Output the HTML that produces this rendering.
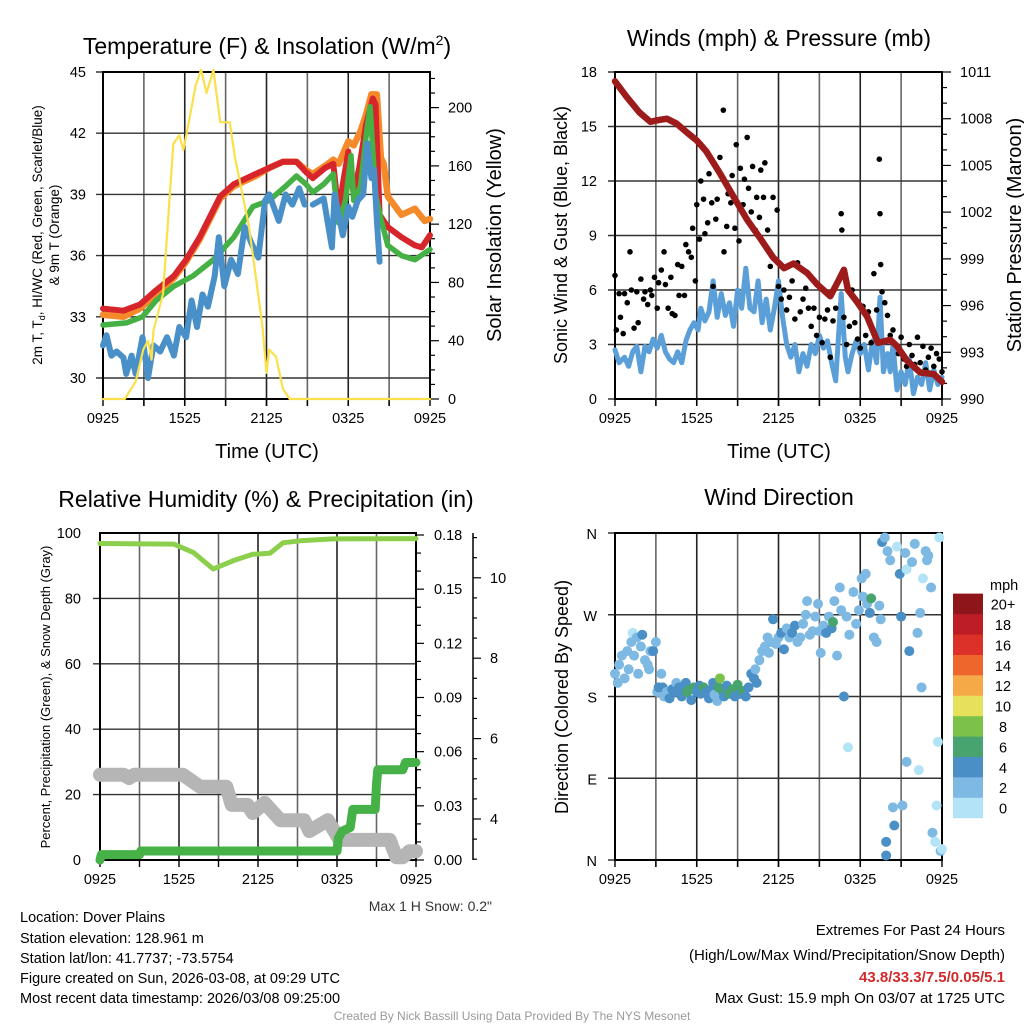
<!DOCTYPE html>
<html><head><meta charset="utf-8"><style>
html,body{margin:0;padding:0;background:#fff}
svg{display:block;font-family:"Liberation Sans",sans-serif}
</style></head><body>
<svg id="root" width="1024" height="1024" viewBox="0 0 1024 1024" xmlns="http://www.w3.org/2000/svg">
<rect width="1024" height="1024" fill="#fff"/>
<text x="267" y="54" font-size="23" text-anchor="middle">Temperature (F) &amp; Insolation (W/m<tspan font-size="14" dy="-9">2</tspan><tspan dy="9">)</tspan></text>
<text x="779" y="46" font-size="23" text-anchor="middle">Winds (mph) &amp; Pressure (mb)</text>
<text x="266" y="507" font-size="23" text-anchor="middle">Relative Humidity (%) &amp; Precipitation (in)</text>
<text x="779" y="505" font-size="23" text-anchor="middle">Wind Direction</text>
<text transform="translate(42,235) rotate(-90)" font-size="13.5" text-anchor="middle">2m T, T<tspan font-size="9" dy="3">d</tspan><tspan dy="-3">, HI/WC (Red, Green, Scarlet/Blue)</tspan></text>
<text transform="translate(59,235) rotate(-90)" font-size="13.5" text-anchor="middle">&amp; 9m T (Orange)</text>
<text transform="translate(501,235) rotate(-90)" font-size="20" text-anchor="middle">Solar Insolation (Yellow)</text>
<text x="267" y="458" font-size="20" text-anchor="middle">Time (UTC)</text>
<text transform="translate(567,235) rotate(-90)" font-size="18" text-anchor="middle">Sonic Wind &amp; Gust (Blue, Black)</text>
<text transform="translate(1021,235) rotate(-90)" font-size="20" text-anchor="middle">Station Pressure (Maroon)</text>
<text x="779" y="458" font-size="20" text-anchor="middle">Time (UTC)</text>
<text transform="translate(50,697) rotate(-90)" font-size="13" text-anchor="middle">Percent, Precipitation (Green), &amp; Snow Depth (Gray)</text>
<text transform="translate(568,697) rotate(-90)" font-size="18" text-anchor="middle">Direction (Colored By Speed)</text>
<text x="492" y="911" font-size="14" fill="#333" text-anchor="end">Max 1 H Snow: 0.2"</text>
<g font-size="14.5">
<text x="20" y="922">Location: Dover Plains</text>
<text x="20" y="943">Station elevation: 128.961 m</text>
<text x="20" y="963">Station lat/lon: 41.7737; -73.5754</text>
<text x="20" y="983">Figure created on Sun, 2026-03-08, at 09:29 UTC</text>
<text x="20" y="1003">Most recent data timestamp: 2026/03/08 09:25:00</text>
</g>
<g font-size="15" text-anchor="end">
<text x="1005" y="935">Extremes For Past 24 Hours</text>
<text x="1005" y="960">(High/Low/Max Wind/Precipitation/Snow Depth)</text>
<text x="1005" y="982" fill="#d02a2a" font-weight="bold">43.8/33.3/7.5/0.05/5.1</text>
<text x="1005" y="1003">Max Gust: 15.9 mph On 03/07 at 1725 UTC</text>
</g>
<text x="512" y="1020" font-size="12" fill="#999" text-anchor="middle">Created By Nick Bassill Using Data Provided By The NYS Mesonet</text>
</svg>
<script>
// ---------- data ----------
const xTickLabels = ["0925","1525","2125","0325","0925"];
const tempTicks = [30,33,36,39,42,45];
const insTicks = [0,40,80,120,160,200];
const redT = [0,1.5,2.7,3.9,5.2,6.1,7.1,8.6,9.6,11.2,12.2,13.2,14.2,14.9,15.4,16.3,16.9,17.3,17.6,18.0,18.4,18.8,19.3,19.8,20.0,20.3,20.9,21.9,22.9,23.4,24];
const redV = [33.4,33.3,33.6,34.3,35.0,35.8,36.9,38.9,39.5,40.0,40.3,40.6,40.6,40.1,39.8,40.3,40.5,38.0,39.5,41.1,39.0,40.3,42.4,43.7,43.4,38.0,37.4,36.9,36.5,36.4,37.0];
const orangeT = [0,1.5,2.7,3.9,5.2,6.1,7.1,8.6,9.6,11.2,12.2,13.2,14.2,14.9,15.4,16.3,16.9,17.3,18.0,18.4,18.9,19.3,19.7,20.1,20.4,20.6,20.9,21.9,22.9,23.6,24];
const orangeV = [33.1,33.0,33.4,34.1,34.9,35.7,36.8,38.8,39.4,39.9,40.3,40.6,40.6,40.2,40.0,40.4,40.7,40.5,41.6,41.4,42.1,42.9,43.9,43.9,40.8,40.5,38.9,38.0,38.3,37.7,37.8];
const greenT = [0,1.7,2.9,3.9,5.2,6.6,8.1,9.6,11.0,12.2,13.4,14.2,14.9,15.4,16.2,16.9,17.3,17.8,18.2,18.4,18.9,19.3,19.6,20.0,20.4,20.9,21.9,22.9,24];
const greenV = [32.6,32.7,33.0,33.8,34.5,35.0,35.8,36.9,38.4,38.7,39.4,39.9,39.5,39.1,39.5,40.0,37.6,38.7,40.9,38.7,39.4,41.8,43.3,39.0,37.8,36.5,36.0,35.8,36.3];
const blueT = [0,0.26,0.62,1.0,1.5,1.7,2.1,2.4,2.9,3.3,3.7,4.2,4.7,5.2,5.6,6.1,6.5,6.9,7.3,7.7,8.2,8.5,8.9,9.4,9.9,10.4,10.9,11.4,11.9,12.2,12.9,13.4,13.9,14.4,14.8];
const blueV = [31.6,32.1,31.1,31.3,31.0,30.2,31.1,30.2,32.0,30.0,31.6,31.3,32.0,31.1,32.5,32.0,33.8,32.5,34.1,33.5,35.0,36.9,34.5,35.8,35.1,37.4,36.6,35.9,38.7,39.0,37.7,39.0,38.5,39.3,38.5];
const blue2T = [15.4,16.2,16.8,17.0,17.6,18.0,18.3,18.7,19.1,19.4,19.7,19.9,20.1,20.3];
const blue2V = [38.5,38.8,36.4,39.0,37.0,38.4,37.9,38.7,39.0,41.5,39.8,40.2,37.7,35.7];
const insT = [0,1.6,2.4,2.96,3.3,3.57,3.7,4.4,4.67,5.16,5.6,5.9,6.3,6.8,7.2,7.6,8.1,8.6,9.3,9.7,10.2,10.7,11.2,11.7,12.0,12.2,12.7,13.2,13.7,24];
const insV = [0,0,12,34,40,27,47,72,108,175,181,171,190,215,226,210,226,190,190,165,142,119,85,50,18,34,29,7,0,0];

const windTicks = [0,3,6,9,12,15,18];
const presTicks = [990,993,996,999,1002,1005,1008,1011];
const presT = [0,0.86,1.8,2.6,3.1,3.8,4.5,5.3,6.0,6.7,7.7,8.7,9.7,10.6,11.6,12.4,13.1,14.1,14.8,15.8,16.4,16.8,17.1,17.8,18.5,19.3,20.2,20.7,21.4,22.4,23.4,24];
const presV = [1010.4,1009.4,1008.4,1007.8,1007.9,1008.0,1007.7,1007.1,1006.6,1005.9,1004.5,1003.0,1001.5,1000.4,999.1,998.4,998.7,998.1,997.4,996.6,997.6,998.3,997.0,996.2,995.3,993.6,993.8,993.4,992.5,991.7,991.6,991.1];
const windT = [0,0.3,0.7,1,1.3,1.6,1.9,2.2,2.5,2.8,3.1,3.4,3.7,4,4.3,4.6,4.9,5.2,5.5,5.8,6.1,6.3,6.6,6.9,7.2,7.5,7.8,8.1,8.4,8.7,9,9.3,9.6,9.9,10.2,10.5,10.8,11.1,11.4,11.7,12,12.3,12.6,12.9,13.2,13.5,13.8,14.1,14.4,14.7,15,15.3,15.6,15.9,16.2,16.6,16.9,17.1,17.4,17.7,18,18.3,18.6,18.9,19.2,19.45,19.7,20,20.2,20.4,20.7,21,21.3,21.6,21.9,22.2,22.5,22.8,23.1,23.4,23.7,24];
const windV = [2.7,2.0,2.3,1.8,2.6,2.9,1.5,2.9,2.6,3.3,2.8,3.5,2.6,2.2,2.0,2.6,2.0,3.2,3.8,4.2,3.8,5.0,4.3,4.8,6.5,4.5,5.8,4.6,5.3,4.0,6.0,5.0,7.2,5.0,4.8,6.5,4.2,5.5,3.8,5.0,6.5,4.5,3.0,2.3,3.0,1.5,2.5,1.8,3.0,2.5,3.5,2.8,3.2,2.0,1.0,5.8,2.3,1.5,2.5,3.2,2.5,3.0,1.6,3.2,2.0,5.6,1.5,2.5,1.5,3.0,0.5,1.5,0.8,2.2,0.3,1.2,0.8,2.0,0.5,1.6,0.8,1.2];
const gustT = [0,0.1,0.3,0.4,0.6,0.7,0.9,1.1,1.2,1.4,1.6,1.7,1.9,2.1,2.2,2.4,2.6,2.7,2.9,3.1,3.2,3.4,3.6,3.7,3.9,4.1,4.2,4.4,4.6,4.7,4.9,5.1,5.2,5.4,5.6,5.7,5.9,6.0,6.2,6.3,6.5,6.6,6.8,6.9,7.1,7.2,7.4,7.5,7.7,7.95,8.0,8.2,8.3,8.5,8.6,8.8,8.9,9.1,9.2,9.4,9.5,9.7,9.8,10.0,10.1,10.3,10.4,10.6,10.7,10.9,11.0,11.2,11.4,11.6,11.9,12.0,12.2,12.4,12.6,12.8,13.0,13.2,13.4,13.6,13.8,14.0,14.2,14.4,14.6,14.8,15.0,15.2,15.4,15.6,15.8,16.0,16.2,16.4,16.6,16.65,16.8,17.0,17.2,17.4,17.6,17.8,18.0,18.2,18.4,18.6,18.8,19.0,19.2,19.4,19.45,19.5,19.6,19.8,20.0,20.2,20.4,20.6,20.8,21.0,21.2,21.4,21.6,21.8,22.0,22.2,22.4,22.6,22.8,23.0,23.2,23.4,23.6,23.8,24];
const gustV = [6.8,3.8,5.8,4.5,3.6,5.8,5.3,8.1,6.0,3.9,5.9,4.2,6.6,5.5,5.9,5.2,6.0,5.7,6.7,5.0,6.4,7.1,8.1,6.3,5.0,6.7,4.7,4.6,7.4,5.7,7.3,5.7,8.5,8.1,7.8,9.4,6.5,10.7,8.8,12.0,11.0,9.1,9.7,12.4,10.8,6.2,9.9,11.0,13.3,15.9,8.1,9.5,11.3,10.8,12.3,9.4,14.0,8.7,12.7,10.7,12.1,14.4,11.6,10.3,12.8,9.3,11.1,10.0,12.6,11.1,13.0,9.3,7.3,11.1,10.4,6.2,5.5,6.0,4.9,5.6,6.5,4.4,7.5,4.8,5.5,6.1,5.0,4.0,5.0,3.5,4.5,3.1,4.4,4.9,2.3,4.3,5.0,6.5,10.2,9.3,4.5,3.0,4.0,6.0,4.2,3.3,2.8,5.1,3.5,4.8,3.1,6.9,4.9,13.2,10.2,7.4,5.9,5.3,4.6,3.5,3.8,3.0,2.5,3.4,2.2,1.8,3.0,2.4,1.9,3.4,2.0,2.9,1.6,2.3,2.8,1.8,2.5,2.2,1.5];

const rhTicks = [0,20,40,60,80,100];
const precipTicks = ["0.00","0.03","0.06","0.09","0.12","0.15","0.18"];
const snowTicks = [4,6,8,10];
const rhT = [0,5.6,7.1,8.6,10.1,11.6,12.9,13.9,15.2,17.7,24];
const rhV = [96.8,96.6,94.0,89.0,91.5,93.5,93.8,97.0,97.6,98.2,98.3];
const precipT = [0,0.1,3,3.1,18,18.1,18.4,19,19.1,19.2,20.9,21.0,21.1,23.0,23.2,24];
const precipV = [0,0.003,0.003,0.005,0.005,0.012,0.016,0.018,0.023,0.028,0.028,0.042,0.05,0.05,0.054,0.054];
const snowT = [0,1.8,2.2,2.6,6.3,7.6,9.6,10.0,11.2,11.6,12.5,13.7,15.5,15.9,17.3,18.2,22.0,22.5,23.0,23.5,24];
const snowV = [5.1,5.1,5.02,5.1,5.1,4.8,4.8,4.35,4.35,4.15,4.4,3.97,3.97,3.7,3.97,3.48,3.48,3.05,3.05,3.2,3.2];

const dirTickLabels = ["N","E","S","W","N"];
const colorbarLabels = ["0","2","4","6","8","10","12","14","16","18","20+"];
const colorbarColors = ["#b3e3f7","#7db9e3","#4a8fc6","#48a46e","#7cc14a","#e5e15a","#f6a947","#ef662d","#dc3128","#bd1d24","#8e1519"];
const dirT = [0,0.2,0.3,0.5,0.7,0.9,1.0,1.2,1.3,1.4,1.6,1.7,1.9,2.0,2.2,2.4,2.5,2.6,2.8,3.0,3.1,3.2,3.4,3.5,3.6,3.8,4.0,4.2,4.4,4.5,4.7,4.9,5.0,5.2,5.3,5.5,5.6,5.8,6.0,6.2,6.3,6.5,6.7,6.9,7.0,7.2,7.3,7.5,7.6,7.7,7.9,8.0,8.2,8.4,8.6,8.8,9.0,9.2,9.4,9.6,9.8,10.0,10.2,10.3,10.4,10.6,10.8,11.0,11.2,11.3,11.4,11.6,11.8,12.0,12.2,12.4,12.6,12.8,13.0,13.2,13.4,13.6,13.8,14.0,14.1,14.3,14.5,14.7,14.9,15.0,15.1,15.3,15.5,15.7,15.9,16.0,16.1,16.3,16.5,16.6,16.8,17.0,17.1,17.2,17.5,17.7,17.9,18.1,18.2,18.4,18.5,18.7,18.8,19.0,19.2,19.4,19.5,19.6,19.8,19.9,19.9,20.0,20.2,20.4,20.5,20.7,20.9,21.0,21.1,21.3,21.4,21.4,21.6,21.8,22.0,22.2,22.3,22.4,22.5,22.6,22.8,22.9,23.0,23.2,23.3,23.5,23.6,23.7,23.8,23.9,24];
const dirV = [205,195,215,225,200,230,210,240,250,225,245,205,235,248,220,215,210,230,230,240,185,190,205,190,180,185,178,188,185,195,190,180,186,195,185,188,176,190,185,192,183,190,185,178,187,195,182,175,190,200,186,180,192,183,188,180,193,183,186,180,190,205,200,210,195,220,230,235,245,228,240,265,238,245,250,232,255,245,250,258,240,245,260,270,285,248,252,268,282,252,228,258,250,268,255,262,285,225,300,275,180,268,124,248,295,260,275,310,290,315,282,272,288,245,240,280,265,350,355,20,5,340,330,58,38,345,315,268,60,338,108,320,230,328,348,250,99,272,190,310,340,330,335,300,30,20,60,130,355,10,12];
const dirS = [2.5,2.5,2.5,3,2.5,3,3,2.5,1.5,3,3.5,2.5,3,4.5,3,2.5,3,3,4.5,3,2.5,4.5,3,4.5,2.5,3,4.5,4.5,4.5,3,4.5,4.5,4.5,4.5,6.5,7,4.5,6.5,4.5,4.5,4.5,6.5,4.5,4.5,4.5,4.5,3,3,7,8.5,6.5,4.5,4.5,6.5,6.5,4.5,6.5,4.5,6.5,4.5,4.5,4.5,4.5,3,4.5,3,3,3,3,2.5,3,4.5,3,3,4.5,4.5,3,3,4.5,4.5,3,3,3,3,3,3,3,3,2.5,3,2,3,4.5,3,4.5,7,3,2,3,3,4.5,3,1,3,3,3,3,3,3,3,3,4.5,7,2,3,3,2,4.5,3,4.5,4.5,3,3,2,4.5,1.5,4.5,4.5,2.5,2,2,1.5,4.5,2,3,2,1.5,2,3,1.5,2,2,3,2,2,1,1,1,1,3,1,4.5];

// ---------- helpers ----------
const NS = "http://www.w3.org/2000/svg";
const root = document.getElementById("root");
function mk(tag, attrs, parent){ const e=document.createElementNS(NS,tag); for(const k in attrs) e.setAttribute(k,attrs[k]); (parent||root).appendChild(e); return e; }
function txt(parent,x,y,s,size,anchor){ const e=mk("text",{x:x,y:y,"font-size":size,"text-anchor":anchor},parent); e.textContent=s; return e; }
function pts(T,V,fx,fy){ return T.map((t,i)=>fx(t).toFixed(1)+","+fy(V[i]).toFixed(1)).join(" "); }

function frame(name,x0,x1,y0,y1,hticks,vx){
  const g=mk("g",{});
  
  
  for(let i=1;i<8;i++){ const x=x0+(x1-x0)*i/8; const l=mk("line",{x1:x,x2:x,y1:y0,y2:y1+(vx?7:0),stroke:i%2?"#666":"#222","stroke-width":1.6},g);
      }
  hticks.forEach(y=>{ const l=mk("line",{x1:x0-7,x2:x1,y1:y,y2:y,stroke:"#333","stroke-width":1.4},g);
      });
  const r=mk("rect",{x:x0,y:y0,width:x1-x0,height:y1-y0,fill:"none",stroke:"#000","stroke-width":2},g);
   
  for(let i=0;i<=8;i++){ const x=x0+(x1-x0)*i/8; const l=mk("line",{x1:x,x2:x,y1:y1,y2:y1+7,stroke:"#000","stroke-width":1.4},g);
      }
  xTickLabels.forEach((s,i)=>{ const t=txt(g,x0+(x1-x0)*i/4,y1+24,s,14.5,"middle");
      });
  return g;
}
function line(name,T,V,fx,fy,color,w){ const p=mk("polyline",{points:pts(T,V,fx,fy),fill:"none",stroke:color,"stroke-width":w,"stroke-linejoin":"round","stroke-linecap":"round"});
    return p; }

// ---------- panel 1 ----------
const x1f=t=>103+t*327/24, ty=v=>72+(45-v)*20.4, iy=v=>399-v*1.457;
frame("temp-plot-area",103,430,72,399,tempTicks.map(ty),true);
tempTicks.forEach(v=>{ const t=txt(root,86,ty(v)+5,String(v),14.5,"end");   });
for(let v=0;v<=220;v+=10){ const l=mk("line",{x1:430,x2:v%40?435:439,y1:iy(v),y2:iy(v),stroke:"#000","stroke-width":1.2});   }
insTicks.forEach(v=>{ const t=txt(root,448,iy(v)+5,String(v),14.5,"start");   });
line("temp-2m-orange-9m",orangeT,orangeV,x1f,ty,"#f58a2b",6.5);
line("temp-2m-red",redT,redV,x1f,ty,"#d7262b",6);
line("dewpoint-green",greenT,greenV,x1f,ty,"#45b043",5.5);
line("windchill-blue",blueT,blueV,x1f,ty,"#4a90c8",6);
line("windchill-blue-2",blue2T,blue2V,x1f,ty,"#4a90c8",6);
line("insolation-yellow",insT,insV,x1f,iy,"#fbe04c",2.2);

// ---------- panel 2 ----------
const x2f=t=>615+t*327/24, wy=v=>399-v*327/18, py=p=>399-(p-990)*327/21;
frame("wind-plot-area",615,942,72,399,windTicks.map(wy),true);
windTicks.forEach(v=>{ const t=txt(root,597,wy(v)+5,String(v),14.5,"end");   });
for(let p=990;p<=1011;p++){ const l=mk("line",{x1:942,x2:p%3?947:951,y1:py(p),y2:py(p),stroke:"#000","stroke-width":1.2});   }
presTicks.forEach(v=>{ const t=txt(root,960,py(v)+5,String(v),14.5,"start");   });
line("sonic-wind-blue",windT,windV,x2f,wy,"#5a9fd8",5);
gustT.forEach((t,i)=>{ const c=mk("circle",{cx:x2f(t),cy:wy(gustV[i]),r:2.8,fill:"#000"});   });
line("pressure-maroon",presT,presV,x2f,py,"#9e1b1b",6.5);

// ---------- panel 3 ----------
const x3f=t=>100+t*316/24, ry=v=>860-v*3.27, pry=v=>860-v*325/0.18, sy=s=>819-(s-4)*40.2;
frame("rh-plot-area",100,416,533,860,rhTicks.map(ry).filter(y=>y>540&&y<855),false);
rhTicks.forEach(v=>{ const t=txt(root,81,ry(v)+5,String(v),14.5,"end");   });
for(let i=0;i<=18;i++){ const v=i*0.01; const l=mk("line",{x1:416,x2:i%3?421:424,y1:pry(v),y2:pry(v),stroke:"#000","stroke-width":1.2});   }
precipTicks.forEach(s=>{ const t=txt(root,434,pry(parseFloat(s))+5,s,14.5,"start");   });
const sa=mk("line",{x1:473,x2:473,y1:533,y2:860,stroke:"#000","stroke-width":1.5});  
for(let s=3;s<=11;s+=0.5){ const l=mk("line",{x1:473,x2:s%2===0?481:477,y1:sy(s),y2:sy(s),stroke:"#000","stroke-width":1.2});   }
snowTicks.forEach(v=>{ const t=txt(root,490,sy(v)+5,String(v),14.5,"start");   });
line("snow-depth-gray",snowT,snowV,x3f,sy,"#b5b5b5",14);
line("precip-green",precipT,precipV,x3f,pry,"#46b146",9);
line("rh-green",rhT,rhV,x3f,ry,"#8ccf4d",5);

// ---------- panel 4 ----------
const dy=d=>860-d*327/360;
frame("dir-plot-area",615,942,533,860,[0,90,180,270,360].map(dy),true);
dirTickLabels.forEach((s,i)=>{ const t=txt(root,597,dy(i*90)+6,s,14.5,"end");   });
function speedColor(s){ return colorbarColors[Math.min(10,Math.floor(s/2))]; }
dirT.forEach((t,i)=>{ const c=mk("circle",{cx:x2f(t),cy:dy(dirV[i]),r:5,fill:speedColor(dirS[i])});   });
const cbt=txt(root,990,590,"mph",14.5,"start");  
colorbarColors.forEach((c,i)=>{ const y=818-(i+1)*20.4; const r=mk("rect",{x:953,y:y,width:30,height:20.6,fill:c});  
  const t=txt(root,1003,y+16,colorbarLabels[i],14.5,"middle");   });
</script>
</body></html>
